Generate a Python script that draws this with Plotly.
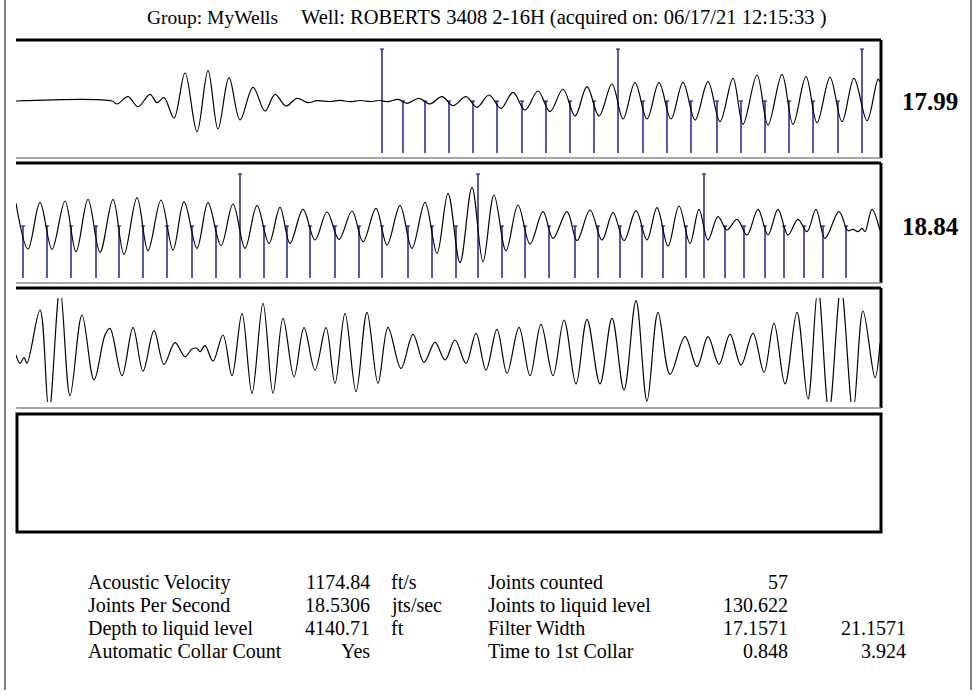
import plotly.graph_objects as go

W, H = 973, 695

# ---------------- DATA ----------------
# Panel 1 waveform (sample index, amplitude)
p1_x = [0, 96, 101, 112, 122, 134, 141, 148, 158, 169, 181, 192, 202, 213, 224, 237, 249, 259, 270, 281, 292, 301,
        314, 324, 334, 344, 354, 364, 372,
        382, 391, 403, 414, 426, 437, 450, 461, 473, 485, 497, 509, 522, 534, 547, 559, 571, 583, 596, 607, 619, 631,
        643, 655, 667, 679, 692, 704, 717, 727, 741, 752, 766, 777, 790, 801, 814, 826, 838, 851, 862, 864]
p1_y = [0, 0, -3, 4.3, -5.7, 6.7, -1.7, 3.3, -17, 28, -30.7, 30.3, -28, 23.3, -19, 13.7, -10, 6.7, -5, 2.7, -1.7, 0.3,
        -0.5, 0.7, -0.7, 0.5, -0.5, 0.5, -0.7,
        1.7, -2.3, 2.7, -3, 4.3, -4.7, 4.3, -6.3, 6, -7.3, 8.7, -9, 10, -10.7, 12, -15, 14.3, -15, 17, -18, 18.3, -18,
        18.3, -18, 18.7, -19, 19.3, -20.7, 22.7, -23.3, 26, -24, 26.7, -23.3, 24.3, -21.7, 23.7, -20.7, 22.7, -19.7, 21.7, 19]
p1_collars = [366, 387, 409, 433, 457, 481, 506, 530, 554, 578, 602, 627, 651, 675, 701, 725, 749, 773, 797, 822, 846]
p1_tall = [366, 602, 846]
p1_label = "17.99"

# Panel 2 waveform
p2_x = [0, 12, 24, 36, 49, 60, 72, 84, 97, 108, 121, 132, 145, 157, 168, 181, 192, 205, 217, 229, 241, 253, 264, 274,
        287, 299, 311, 323, 336, 347, 360, 371, 384, 396, 409, 421, 432, 444, 456, 467, 478, 490, 502, 514, 527, 537,
        551, 561, 574, 586, 597, 608, 620, 631, 641, 652, 663, 674, 683, 692, 702, 711, 721, 731, 742, 752, 762, 772,
        782, 791, 800, 809, 823, 832, 837, 842, 846, 849, 856, 864]
p2_y = [22.7, -23, 23.3, -23.3, 25, -25.7, 26.7, -26.3, 26.7, -28.3, 28.3, -24.7, 26, -24, 24.3, -22.3, 23.3, -19.7,
        22, -22.3, 20.3, -17.3, 18.7, -17.3, 16.7, -14, 14, -13.3, 15, -15.7, 17.7, -19, 20.3, -22.3, 23.7, -27.3, 32.7,
        -36.7, 38.7, -35.7, 31, -24.7, 21, -18, 14.3, -12.3, 14.3, -14.7, 16, -14, 13.7, -14.7, 15.3, -14, 18.3, -20,
        20, -17.3, 16.7, -14, 9.3, -4, 6.7, -9, 16.7, -9, 16.7, -9, 6.7, -5.7, 16.7, -12.3, 14.3, -4.7, -3.3, -5.7,
        -2.3, -5.7, 16.7, -4.7]
p2_collars = [7, 31, 55, 80, 103, 127, 151, 176, 200, 224, 248, 271, 294, 319, 343, 366, 392, 416, 440, 462, 486, 509,
              533, 559, 582, 604, 626, 647, 670, 688, 709, 728, 749, 768, 788, 807, 830]
p2_tall = [224, 462, 688]
p2_label = "18.84"

# Panel 3 waveform
p3_x = [0, 4, 8, 11, 24, 33, 44, 54, 66, 78, 89, 94, 106, 117, 127, 138, 148, 159, 169, 176, 181, 184, 189, 197, 207,
        216, 226, 236, 247, 257, 267, 278, 288, 299, 310, 319, 329, 340, 351, 362, 372, 385, 397, 408, 419, 429, 439,
        450, 460, 470, 481, 491, 503, 514, 525, 537, 548, 560, 571, 584, 596, 608, 620, 631, 642, 654, 669, 681, 692,
        703, 714, 725, 737, 748, 758, 769, 781, 792, 802, 813, 825, 837, 847, 859, 864]
p3_y = [-5, -13.3, -7.7, -13.3, 40, -62, 62, -45.7, 35, -30, 15, 21.7, -25.7, 22.3, -21, 19.3, -14.3, 7.3, -6.7, 1, 1.7,
        -1.7, 4.3, -11, 15, -25.7, 36.7, -43.3, 46.7, -43.3, 31.7, -26.7, 22.3, -20, 22.3, -33.3, 36.7, -41.7, 37.7,
        -33.3, 22.7, -18.3, 15.7, -12.3, 7.7, -10, 10, -13.3, 16.7, -20, 20.7, -23.3, 22.7, -25.7, 25.7, -25.7, 30, -34,
        30.7, -34, 31.7, -40, 49.3, -51, 37.7, -24.3, 13.3, -16.7, 13.3, -14.3, 15.7, -15, 16.7, -22.3, 26.7, -34, 37.7,
        -49, 62, -62, 62, -62, 39, -27.7, 6.7]

title_group = "Group: MyWells"
title_well = "Well: ROBERTS 3408 2-16H (acquired on: 06/17/21 12:15:33 )"

left_labels = ["Acoustic Velocity", "Joints Per Second", "Depth to liquid level", "Automatic Collar Count"]
left_values = ["1174.84", "18.5306", "4140.71", "Yes"]
left_units = ["ft/s", "jts/sec", "ft", ""]
right_labels = ["Joints counted", "Joints to liquid level", "Filter Width", "Time to 1st Collar"]
right_values = ["57", "130.622", "17.1571", "0.848"]
right_values2 = ["", "", "21.1571", "3.924"]

# ---------------- LAYOUT HELPERS ----------------
def px(x):
    return x / W

def py(y):
    return 1 - y / H

FONT = "Liberation Serif, Times New Roman, serif"
NAVY = "#000080"
X_RANGE = [0, 864]
Y_RANGE = [-52, 52]
X_DOM = [px(16), px(880)]
inner = [(49, 153), (174, 278), (298, 402)]
boxes = [(40, 158), (163, 283), (288, 408)]

fig = go.Figure()


def collar_trace(collars, tall, axis):
    xs, ys, cx, cy = [], [], [], []
    for c in collars:
        top = Y_RANGE[1] if c in tall else 0
        xs += [c, c, None]
        ys += [top, Y_RANGE[0], None]
        cx.append(c)
        cy.append(top)
    fig.add_trace(go.Scatter(x=xs, y=ys, mode="lines", line=dict(color=NAVY, width=1.3),
                             xaxis="x" + axis, yaxis="y" + axis, hoverinfo="skip", showlegend=False))
    fig.add_trace(go.Scatter(x=cx, y=cy, mode="markers",
                             marker=dict(symbol="line-ew", size=3, line=dict(color=NAVY, width=1)),
                             xaxis="x" + axis, yaxis="y" + axis, hoverinfo="skip", showlegend=False,
                             cliponaxis=False))


def wave_trace(x, y, axis):
    fig.add_trace(go.Scatter(x=x, y=y, mode="lines", line=dict(color="black", width=1.2, shape="spline",
                                                                smoothing=1.0),
                             xaxis="x" + axis, yaxis="y" + axis, hoverinfo="skip", showlegend=False))


collar_trace(p1_collars, p1_tall, "")
wave_trace(p1_x, p1_y, "")
collar_trace(p2_collars, p2_tall, "2")
wave_trace(p2_x, p2_y, "2")
wave_trace(p3_x, p3_y, "3")

axis_common = dict(showgrid=False, zeroline=False, showticklabels=False, ticks="", showline=False,
                   fixedrange=True)
layout_axes = {}
for i, (t, b) in enumerate(inner):
    sfx = "" if i == 0 else str(i + 1)
    layout_axes["xaxis" + sfx] = dict(domain=X_DOM, range=X_RANGE, anchor="y" + sfx, **axis_common)
    layout_axes["yaxis" + sfx] = dict(domain=[py(b), py(t)], range=Y_RANGE, anchor="x" + sfx, **axis_common)

shapes = []
# outer frame
shapes.append(dict(type="line", xref="paper", yref="paper", x0=px(5), x1=px(5), y0=py(0), y1=py(690),
                   line=dict(color="black", width=1)))
shapes.append(dict(type="line", xref="paper", yref="paper", x0=px(971), x1=px(971), y0=py(0), y1=py(690),
                   line=dict(color="black", width=1)))
for (t, b) in boxes:
    shapes.append(dict(type="line", xref="paper", yref="paper", x0=px(16), x1=px(881), y0=py(t), y1=py(t),
                       line=dict(color="black", width=3)))
    shapes.append(dict(type="line", xref="paper", yref="paper", x0=px(881), x1=px(881), y0=py(t), y1=py(b),
                       line=dict(color="black", width=3)))
    shapes.append(dict(type="line", xref="paper", yref="paper", x0=px(16), x1=px(881), y0=py(b), y1=py(b),
                       line=dict(color="#8a8a8a", width=1.5)))
# empty fourth panel
shapes.append(dict(type="rect", xref="paper", yref="paper", x0=px(17), x1=px(881), y0=py(532), y1=py(414),
                   line=dict(color="black", width=3)))

annotations = []


def txt(s, x, y, anchor="left", size=20, bold=False):
    annotations.append(dict(text=("<b>%s</b>" % s) if bold else s, xref="paper", yref="paper",
                            x=px(x), y=py(y), xanchor=anchor, yanchor="middle", showarrow=False,
                            font=dict(family=FONT, size=size, color="black")))


txt(title_group, 145, 17, size=19.5)
txt(title_well, 299, 17, size=20.5)
txt(p1_label, 930, 101, anchor="center", size=25, bold=True)
txt(p2_label, 930, 226, anchor="center", size=25, bold=True)

row_y = [582, 605, 628, 651]
for i, ry in enumerate(row_y):
    txt(left_labels[i], 86, ry)
    txt(left_values[i], 372, ry, anchor="right")
    if left_units[i]:
        txt(left_units[i], 389, ry)
    txt(right_labels[i], 486, ry)
    txt(right_values[i], 790, ry, anchor="right")
    if right_values2[i]:
        txt(right_values2[i], 908, ry, anchor="right")

fig.update_layout(width=W, height=H, margin=dict(l=0, r=0, t=0, b=0), paper_bgcolor="white",
                  plot_bgcolor="white", showlegend=False, shapes=shapes, annotations=annotations,
                  **layout_axes)

fig.write_html("out.html", config={"displayModeBar": False},
               post_script="document.body.style.margin='0';document.body.style.overflow='hidden';")
